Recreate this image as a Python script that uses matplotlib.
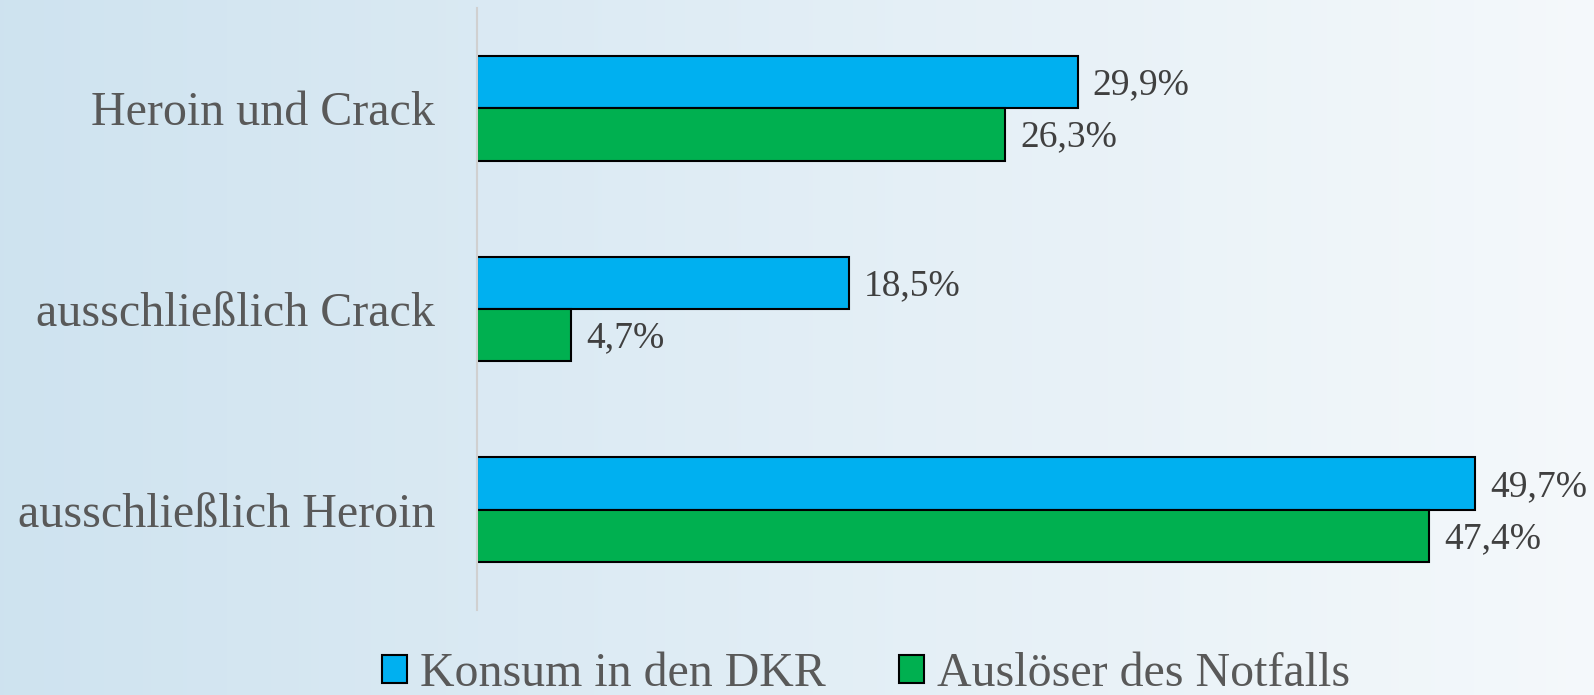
import numpy as np
import matplotlib
matplotlib.use("Agg")
from matplotlib import pyplot as plt
from matplotlib import patches as mpatches

# data
categories = ["ausschließlich Heroin", "ausschließlich Crack", "Heroin und Crack"]
konsum     = [49.7, 18.5, 29.9]
ausloeser  = [47.4, 4.7, 26.3]
series     = ["Konsum in den DKR", "Auslöser des Notfalls"]

BLUE  = "#00b0f0"
GREEN = "#00b050"

plt.rcParams["font.family"] = ["Liberation Serif", "DejaVu Serif"]

fig = plt.figure(figsize=(15.94, 6.95), dpi=100)

# background gradient (light blue on the left, almost white on the right)
bg = fig.add_axes([0, 0, 1, 1], zorder=-10)
left  = np.array([0.81, 0.89, 0.94])
right = np.array([0.96, 0.975, 0.985])
t = np.linspace(0, 1, 400)[None, :, None]
grad = left + (right - left) * t
grad = np.repeat(grad, 2, axis=0)
bg.imshow(grad, aspect="auto", extent=[0, 1, 0, 1])
bg.axis("off")

ax = fig.add_axes([477 / 1594, 1 - 610 / 695, 1 - 477 / 1594, 602 / 695])
ax.patch.set_alpha(0)

y = np.arange(len(categories))
h = 0.26
ax.barh(y + h / 2, konsum, height=h, color=BLUE, edgecolor="black", linewidth=1.5)
ax.barh(y - h / 2, ausloeser, height=h, color=GREEN, edgecolor="black", linewidth=1.5)

for yi, v in zip(y, konsum):
    ax.annotate(f"{v:.1f}%".replace(".", ","), (v, yi + h / 2), xytext=(15, -3),
                textcoords="offset pixels", va="center", ha="left",
                fontsize=27, color="#404040")
for yi, v in zip(y, ausloeser):
    ax.annotate(f"{v:.1f}%".replace(".", ","), (v, yi - h / 2), xytext=(15, -3),
                textcoords="offset pixels", va="center", ha="left",
                fontsize=27, color="#404040")

ax.set_xlim(0, 55.6)
ax.set_ylim(-0.5, 2.5)
ax.set_yticks(y)
ax.set_yticklabels(categories, fontsize=34.6, color="#595959")
ax.tick_params(axis="y", length=0, pad=30)
ax.set_xticks([])
for s in ["top", "right", "bottom"]:
    ax.spines[s].set_visible(False)
ax.spines["left"].set_color("#d0d0d0")
ax.spines["left"].set_linewidth(1.5)

handles = [mpatches.Patch(facecolor=BLUE, edgecolor="black", linewidth=1.5, label=series[0]),
           mpatches.Patch(facecolor=GREEN, edgecolor="black", linewidth=1.5, label=series[1])]
fig.legend(handles=handles, loc="upper left", bbox_to_anchor=(382 / 1594, 1 - 652 / 695),
           ncol=2, frameon=False, fontsize=34.5, labelcolor="#595959",
           handlelength=0.52, handleheight=0.52, handletextpad=0.27,
           columnspacing=1.54, borderaxespad=0, borderpad=0)

fig.savefig("out.png", dpi=100)
